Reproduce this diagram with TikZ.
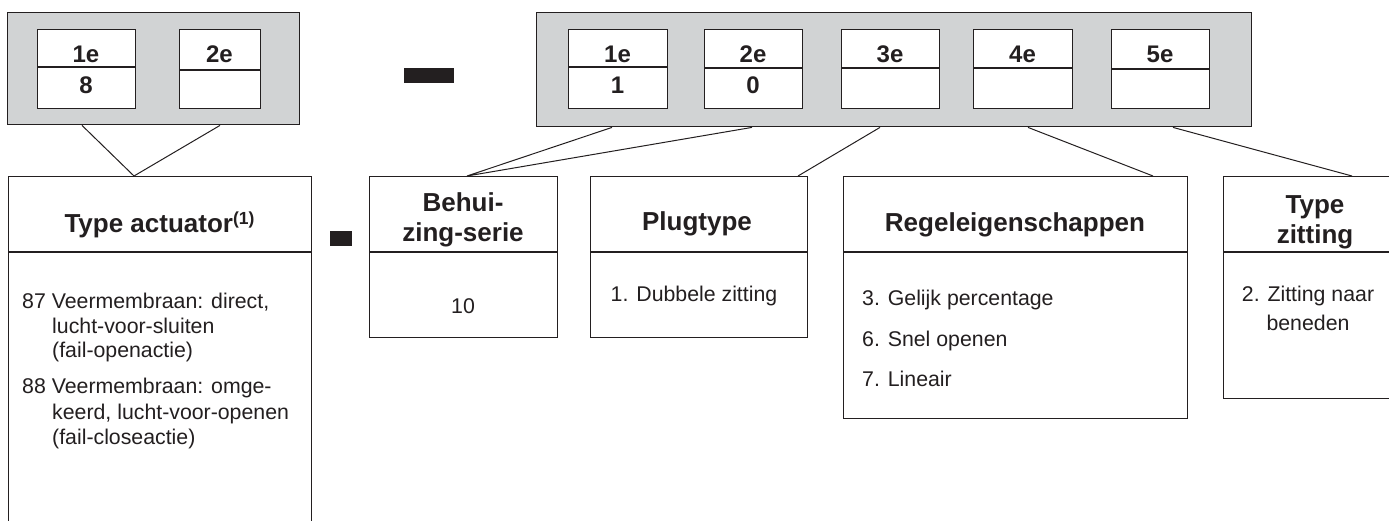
\documentclass[tikz,border=0pt]{standalone}
\usepackage{fontspec}
\setmainfont{Liberation Sans}
\definecolor{ink}{HTML}{231F20}
\definecolor{panel}{HTML}{D1D3D4}
\newcommand\ttlfont{\fontsize{26}{30}\selectfont\bfseries}
\newcommand\celfont{\fontsize{24}{28}\selectfont\bfseries}
\newcommand\txtfont{\fontsize{21.3}{25}\selectfont}
\newcommand\supfont{\fontsize{17.5}{19}\selectfont\bfseries}
\begin{document}
\begin{tikzpicture}[x=1pt,y=-1pt,
  frame/.style={draw=ink,line width=1.4pt,inner sep=0pt,anchor=north west,fill=white},
  graybox/.style={draw=ink,line width=1.4pt,inner sep=0pt,anchor=north west,fill=panel},
  cellbox/.style={draw=ink,line width=1.3pt,inner sep=0pt,anchor=north west,fill=white,minimum height=79pt},
  divline/.style={draw=ink,line width=1.3pt},
  link/.style={draw=ink,line width=1pt},
  ttl/.style={anchor=base,inner sep=0pt,text=ink,font=\ttlfont},
  cel/.style={anchor=base,inner sep=0pt,text=ink,font=\celfont},
  txt/.style={anchor=base,inner sep=0pt,text=ink,font=\txtfont},
  txtl/.style={anchor=base west,inner sep=0pt,text=ink,font=\txtfont},
  bar/.style={fill=ink,draw=none,inner sep=0pt,anchor=north west}
]
\useasboundingbox (0,0) rectangle (1389,520);
\clip (0,0) rectangle (1389,520);

% ---------- left code panel ----------
\node[graybox,minimum width=292pt,minimum height=112pt] (gL) at (7,12) {};
\node[cellbox,minimum width=98pt] (cL1) at (37,29) {};
\draw[divline] (cL1.west |- 0,67) -- (cL1.east |- 0,67);
\node[cel] (cL1h) at (86,62) {1e};
\node[cel] (cL1v) at (86,93) {8};
\node[cellbox,minimum width=81pt] (cL2) at (179,29) {};
\draw[divline] (cL2.west |- 0,70) -- (cL2.east |- 0,70);
\node[cel] (cL2h) at (219.5,62) {2e};

% big dash
\node[bar,minimum width=50pt,minimum height=15pt] (dash1) at (404,68) {};

% ---------- right code panel ----------
\node[graybox,minimum width=715pt,minimum height=114pt] (gR) at (536,12) {};
\node[cellbox,minimum width=99pt] (cR1) at (568,29) {};
\draw[divline] (cR1.west |- 0,67) -- (cR1.east |- 0,67);
\node[cel] (cR1h) at (617.5,62) {1e};
\node[cel] (cR1v) at (617.5,93) {1};
\node[cellbox,minimum width=98pt] (cR2) at (704,29) {};
\draw[divline] (cR2.west |- 0,68) -- (cR2.east |- 0,68);
\node[cel] (cR2h) at (753,62) {2e};
\node[cel] (cR2v) at (753,93) {0};
\node[cellbox,minimum width=98pt] (cR3) at (841,29) {};
\draw[divline] (cR3.west |- 0,68) -- (cR3.east |- 0,68);
\node[cel] (cR3h) at (890,62) {3e};
\node[cellbox,minimum width=99pt] (cR4) at (973,29) {};
\draw[divline] (cR4.west |- 0,68) -- (cR4.east |- 0,68);
\node[cel] (cR4h) at (1022.5,62) {4e};
\node[cellbox,minimum width=98pt] (cR5) at (1111,29) {};
\draw[divline] (cR5.west |- 0,69) -- (cR5.east |- 0,69);
\node[cel] (cR5h) at (1160,62) {5e};

% ---------- lower boxes ----------
% Type actuator
\node[frame,minimum width=303pt,minimum height=370pt] (bA) at (8,176) {};
\draw[divline] (bA.west |- 0,252) -- (bA.east |- 0,252);
\node[ttl] (tA) at (159.5,232) {Type actuator\raisebox{7.5pt}{\supfont(1)}};
\node[txtl] (a1) at (22,308) {87 Veermembraan: direct,};
\node[txtl] (a2) at (52,333) {lucht-voor-sluiten};
\node[txtl] (a3) at (52,357) {(fail-openactie)};
\node[txtl] (a4) at (22,393) {88 Veermembraan: omge-};
\node[txtl] (a5) at (52,419) {keerd, lucht-voor-openen};
\node[txtl] (a6) at (52,444) {(fail-closeactie)};

% small dash
\node[bar,minimum width=22pt,minimum height=15pt] (dash2) at (330,231) {};

% Behuizing-serie
\node[frame,minimum width=188pt,minimum height=161pt] (bB) at (369,176) {};
\draw[divline] (bB.west |- 0,252) -- (bB.east |- 0,252);
\node[ttl] (tB1) at (463,211) {Behui-};
\node[ttl] (tB2) at (463,241) {zing-serie};
\node[txt] (b1) at (463,313) {10};

% Plugtype
\node[frame,minimum width=217pt,minimum height=161pt] (bP) at (590,176) {};
\draw[divline] (bP.west |- 0,252) -- (bP.east |- 0,252);
\node[ttl] (tP) at (697,230) {Plugtype};
\node[txt] (p1) at (694,301) {1. Dubbele zitting};

% Regeleigenschappen
\node[frame,minimum width=344pt,minimum height=242pt] (bR) at (843,176) {};
\draw[divline] (bR.west |- 0,252) -- (bR.east |- 0,252);
\node[ttl] (tR) at (1015,231) {Regeleigenschappen};
\node[txtl] (r1) at (862,305) {3. Gelijk percentage};
\node[txtl] (r2) at (862,346) {6. Snel openen};
\node[txtl] (r3) at (862,386) {7. Lineair};

% Type zitting
\node[frame,minimum width=200pt,minimum height=222pt] (bZ) at (1223,176) {};
\draw[divline] (bZ.west |- 0,252) -- (1400,252);
\node[ttl] (tZ1) at (1315,213) {Type};
\node[ttl] (tZ2) at (1315,243) {zitting};
\node[txt] (z1) at (1308,301) {2. Zitting naar};
\node[txt] (z2) at (1308,330) {beneden};

% ---------- connectors ----------
\draw[link] (gL.south west -| 82,0) -- (bA.north west -| 134,0) -- (gL.south west -| 220,0);
\draw[link] (gR.south west -| 612,0) -- (bB.north west -| 467,0) -- (gR.south west -| 752,0);
\draw[link] (gR.south west -| 880,0) -- (bP.north west -| 798,0);
\draw[link] (gR.south west -| 1028,0) -- (bR.north west -| 1153,0);
\draw[link] (gR.south west -| 1173,0) -- (bZ.north west -| 1352,0);
\end{tikzpicture}
\end{document}
